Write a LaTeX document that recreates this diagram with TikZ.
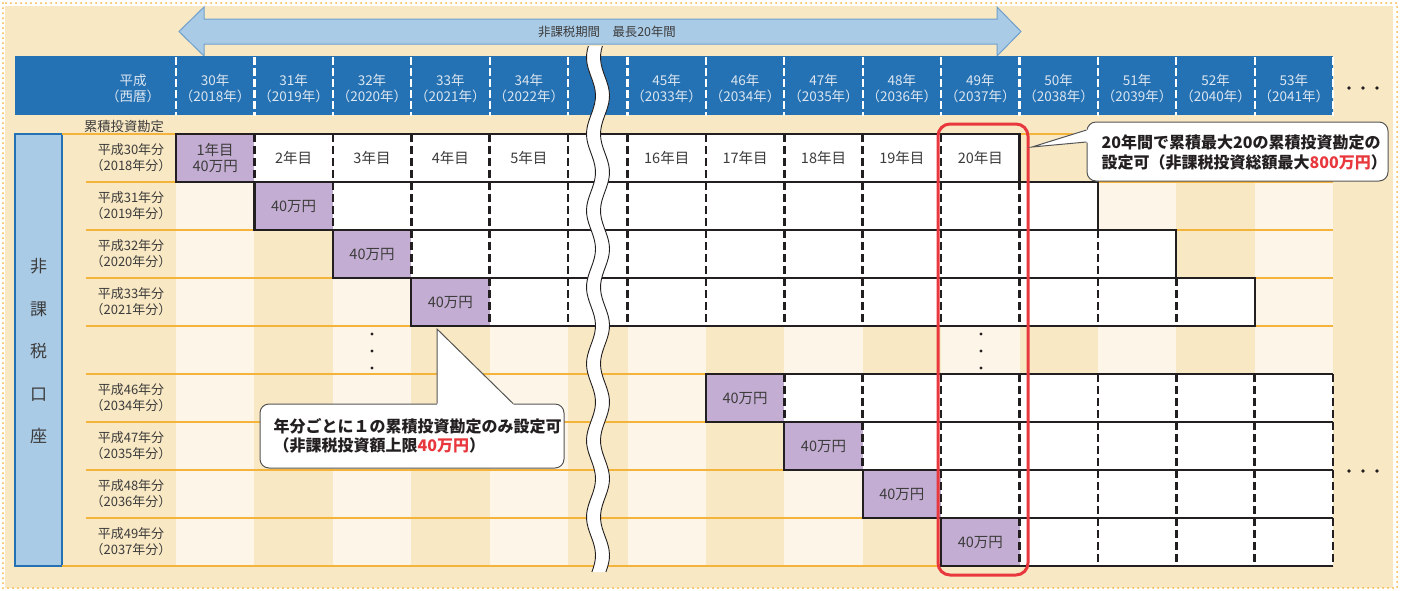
\documentclass[tikz,border=0pt]{standalone}
\usepackage{fontspec}
\setmainfont{Noto Sans CJK JP}
\usepackage{xcolor}
\usepackage{tikz}
\definecolor{basecolor}{HTML}{F8E8C3}
\definecolor{stripecolor}{HTML}{FDF5E8}
\definecolor{headcolor}{HTML}{2472B4}
\definecolor{headtextcolor}{HTML}{DCE6F0}
\definecolor{skycolor}{HTML}{AACBE6}
\definecolor{skyedge}{HTML}{6F9FCD}
\definecolor{rulecolor}{HTML}{F4B43C}
\definecolor{buycolor}{HTML}{C4ADD2}
\definecolor{alertcolor}{HTML}{E8383D}
\definecolor{inkcolor}{HTML}{3C3C3C}
\definecolor{inkblack}{HTML}{231F20}
\definecolor{balloonedge}{HTML}{555555}
\tikzset{
  headtext/.style={text=headtextcolor, align=center, font=\fontsize{13.5pt}{16pt}\selectfont},
  rowtext/.style={text=inkcolor, align=center, font=\fontsize{13pt}{16pt}\selectfont},
  celltext/.style={text=inkcolor, align=center, font=\fontsize{14.5pt}{16.5pt}\selectfont},
  buycell/.style={celltext, rectangle, fill=buycolor, minimum width=78.4pt, minimum height=48pt, inner sep=0pt},
  rowframe/.style={draw=inkblack, line width=2.3pt},
  celldash/.style={draw=inkblack, line width=2.6pt, dash pattern=on 8pt off 4pt},
  headdash/.style={draw=white, line width=2.2pt, dash pattern=on 8pt off 3pt},
  rowrule/.style={draw=rulecolor, line width=2pt},
  balloon/.style={rectangle, rounded corners=9pt, draw=balloonedge, line width=1pt, fill=white},
  balloonline/.style={draw=balloonedge, line width=1pt},
  notetext/.style={text=inkblack, align=left, anchor=west, font=\bfseries\fontsize{16pt}{19.5pt}\selectfont},
}

\begin{document}
\begin{tikzpicture}[x=1pt, y=-1pt]%
\useasboundingbox (0,0) rectangle (1402,590);%
% frame
\fill[basecolor] (5,6) rectangle (1393,588);%
\draw[rulecolor, line width=2pt, dash pattern=on 0pt off 5pt, line cap=round] (3,3) rectangle (1397,588);%
% period arrow
\draw[skyedge, fill=skycolor, line width=1pt] (179,31.5) -- (204,7) -- (204,19) -- (997,19) -- (997,7) -- (1021,31.5) -- (997,56) -- (997,44) -- (204,44) -- (204,56) -- cycle;%
\node[text=inkcolor, font=\fontsize{12.4pt}{14pt}\selectfont] (period) at (607,32) {非課税期間　最長20年間};%
% header
\fill[headcolor] (15,56) rectangle (1333.1,115);%
\node[headtext] (era) at (133,88) {平成\\（西暦）};%
\foreach \x/\h/\w in {215.2/30/2018, 293.6/31/2019, 372/32/2020, 450.4/33/2021, 528.8/34/2022, 666.7/45/2033, 745.1/46/2034, 823.5/47/2035, 901.9/48/2036, 980.3/49/2037, 1058.7/50/2038, 1137.1/51/2039, 1215.5/52/2040, 1293.9/53/2041}
  \node[headtext] (head\h) at (\x,88) {{\h}年\\（{\w}年）};%
\foreach \x in {176,254.4,332.8,411.2,489.6,568,627.5,705.9,784.3,862.7,941.1,1019.5,1097.9,1176.3,1254.7,1333.1}
  \draw[headdash] (\x,57) -- (\x,116);%
\node[rowtext, font=\fontsize{13.3pt}{16pt}\selectfont] (ledger) at (124,126) {累積投資勘定};%
% account box
\draw[headcolor, fill=skycolor, line width=2pt] (15,134) rectangle (62,566);%
\node[text=inkcolor, align=center, font=\fontsize{17pt}{42.5pt}\selectfont] (account) at (38.5,351.5) {非\\課\\税\\口\\座};%
% stripes and rules
\foreach \x in {176,332.8,489.6,627.5,784.3,941.1,1097.9,1254.7}
  \fill[stripecolor] (\x,134) rectangle ++(78.4,432);%
\draw[rowrule] (62,134) -- (1333.1,134);%
\foreach \y in {182,230,278,326,374,422,470,518}
  \draw[rowrule] (86,\y) -- (1333.1,\y);%
\draw[rowrule] (62,566) -- (1333.1,566);%
\foreach \y/\h/\w in {158/30/2018, 206/31/2019, 254/32/2020, 302/33/2021, 398/46/2034, 446/47/2035, 494/48/2036, 542/49/2037}
  \node[rowtext] (label\h) at (131,\y) {平成{\h}年分\\（{\w}年分）};%
% 平成30年分
\fill[white] (176,134) rectangle (1019.5,182);%
\node[buycell] (buy30) at (215.2,158) {1年目\\40万円};%
\foreach \x/\n in {293.6/2, 372/3, 450.4/4, 528.8/5, 666.7/16, 745.1/17, 823.5/18, 901.9/19, 980.3/20}
  \node[celltext] (year\n) at (\x,158) {{\n}年目};%
\foreach \x in {254.4,332.8,411.2,489.6,568,627.5,705.9,784.3,862.7,941.1}
  \draw[celldash] (\x,134) -- (\x,182);%
\draw[rowframe] (176,134) rectangle (1019.5,182);%
% 平成31年分
\fill[white] (254.4,182) rectangle (1097.9,230);%
\node[buycell] (buy31) at (293.6,206) {40万円};%
\foreach \x in {332.8,411.2,489.6,568,627.5,705.9,784.3,862.7,941.1,1019.5}
  \draw[celldash] (\x,182) -- (\x,230);%
\draw[rowframe] (254.4,182) rectangle (1097.9,230);%
% 平成32年分
\fill[white] (332.8,230) rectangle (1176.3,278);%
\node[buycell] (buy32) at (372,254) {40万円};%
\foreach \x in {411.2,489.6,568,627.5,705.9,784.3,862.7,941.1,1019.5,1097.9}
  \draw[celldash] (\x,230) -- (\x,278);%
\draw[rowframe] (332.8,230) rectangle (1176.3,278);%
% 平成33年分
\fill[white] (411.2,278) rectangle (1254.7,326);%
\node[buycell] (buy33) at (450.4,302) {40万円};%
\foreach \x in {489.6,568,627.5,705.9,784.3,862.7,941.1,1019.5,1097.9,1176.3}
  \draw[celldash] (\x,278) -- (\x,326);%
\draw[rowframe] (411.2,278) rectangle (1254.7,326);%
% 平成46年分
\fill[white] (705.9,374) rectangle (1333.1,422);%
\node[buycell] (buy46) at (745.1,398) {40万円};%
\foreach \x in {784.3,862.7,941.1,1019.5,1097.9,1176.3,1254.7,1333.1}
  \draw[celldash] (\x,374) -- (\x,422);%
\draw[rowframe] (1333.1,374) -| (705.9,422) -- (1333.1,422);%
% 平成47年分
\fill[white] (784.3,422) rectangle (1333.1,470);%
\node[buycell] (buy47) at (823.5,446) {40万円};%
\foreach \x in {862.7,941.1,1019.5,1097.9,1176.3,1254.7,1333.1}
  \draw[celldash] (\x,422) -- (\x,470);%
\draw[rowframe] (1333.1,422) -| (784.3,470) -- (1333.1,470);%
% 平成48年分
\fill[white] (862.7,470) rectangle (1333.1,518);%
\node[buycell] (buy48) at (901.9,494) {40万円};%
\foreach \x in {941.1,1019.5,1097.9,1176.3,1254.7,1333.1}
  \draw[celldash] (\x,470) -- (\x,518);%
\draw[rowframe] (1333.1,470) -| (862.7,518) -- (1333.1,518);%
% 平成49年分
\fill[white] (941.1,518) rectangle (1333.1,566);%
\node[buycell] (buy49) at (980.3,542) {40万円};%
\foreach \x in {1019.5,1097.9,1176.3,1254.7,1333.1}
  \draw[celldash] (\x,518) -- (\x,566);%
\draw[rowframe] (1333.1,518) -| (941.1,566) -- (1333.1,566);%
% dots
\foreach \y in {334,351,368} {
  \fill[inkblack] (372,\y) circle (1.6pt);
  \fill[inkblack] (981,\y) circle (1.6pt);
}%
\foreach \x in {1349,1363,1377} {
  \fill[inkblack] (\x,88) circle (1.8pt);
  \fill[inkblack] (\x,471) circle (1.8pt);
}%
% break
\fill[white] plot[domain=46:572, samples=120] ({591+4.5*sin(4.7*\x)},\x) -- plot[domain=572:46, samples=120] ({605+4.5*sin(4.7*\x)},\x) -- cycle;%
\draw[inkblack, line width=0.9pt] plot[domain=46:572, samples=120] ({591+4.5*sin(4.7*\x)},\x);%
\draw[inkblack, line width=0.9pt] plot[domain=46:572, samples=120] ({605+4.5*sin(4.7*\x)},\x);%
% 20 years
\draw[alertcolor, line width=3pt, rounded corners=12pt] (938,124) rectangle (1028,575);%
% notes
\node[balloon, minimum width=301pt, minimum height=59pt] (note1) at (1237.5,151.5) {};%
\coordinate (tip1) at (1032,147);%
\fill[white] (tip1) -- (1086,129.5) -- (1090,129.5) -- (1090,142.5) -- (1086,142.5) -- cycle;%
\draw[balloonline] ([yshift=21.5pt]note1.west) -- (tip1) -- ([yshift=9.5pt]note1.west);%
\node[notetext] (note1text) at (1098,152.5) {20年間で累積最大20の累積投資勘定の\\設定可（非課税投資総額最大{\color{alertcolor}800万円}）};%
\node[balloon, minimum width=304pt, minimum height=64pt] (note2) at (412,436) {};%
\coordinate (tip2) at (437,329);%
\fill[white] (tip2) -- (437,407) -- (516,407) -- cycle;%
\draw[balloonline] ([xshift=25pt]note2.north) -- (tip2) -- ([xshift=101pt]note2.north);%
\node[notetext] (note2text) at (270,436) {年分ごとに１の累積投資勘定のみ設定可\\（非課税投資額上限{\color{alertcolor}40万円}）};%
\end{tikzpicture}
\end{document}
